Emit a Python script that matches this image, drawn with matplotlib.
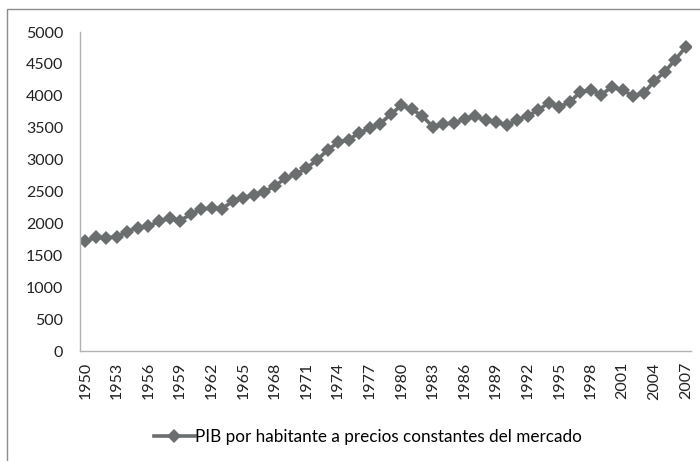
import matplotlib
matplotlib.use("Agg")
import matplotlib.pyplot as plt
from matplotlib.patches import Rectangle

years = list(range(1950, 2008))
pib = [1725, 1780, 1775, 1790, 1870, 1935, 1960, 2030, 2080, 2045,
       2140, 2225, 2240, 2230, 2350, 2405, 2445, 2495, 2590, 2705,
       2775, 2865, 2995, 3150, 3270, 3310, 3420, 3490, 3565, 3710,
       3850, 3790, 3680, 3515, 3560, 3570, 3635, 3680, 3620, 3595,
       3535, 3625, 3685, 3775, 3890, 3825, 3905, 4060, 4090, 4020,
       4140, 4085, 4000, 4040, 4225, 4375, 4565, 4765]
y_ticks = [0, 500, 1000, 1500, 2000, 2500, 3000, 3500, 4000, 4500, 5000]
label = "PIB por habitante a precios constantes del mercado"

plt.rcParams['font.family'] = ['Lato', 'DejaVu Sans']
gray = '#6a6e6e'
axis_gray = '#b3b3b3'

fig = plt.figure(figsize=(7, 4.61), dpi=100)
# outer chart border (cropped on right and bottom)
fig.patches.append(Rectangle((7 / 700, -0.05), 1.1, 1 - 9 / 461 + 0.05,
                             transform=fig.transFigure, fill=False,
                             edgecolor='#8c8c8c', linewidth=1))

ax = fig.add_axes([80 / 700, (461 - 351) / 461, 611 / 700, 319 / 461])
x = list(range(len(years)))
ax.plot(x, pib, color=gray, linewidth=2.6, marker='D', markersize=7.5,
        markeredgewidth=0, label=label)

ax.set_xlim(-0.5, len(years) - 0.5)
ax.set_ylim(0, 5000)
ax.set_yticks(y_ticks)
ax.set_yticklabels([str(v) for v in y_ticks], fontsize=11.5, color='#222222')
ax.set_xticks(x[::3])
ax.set_xticklabels([str(y) for y in years[::3]], rotation=90, fontsize=11.5,
                   color='#222222')
ax.tick_params(axis='both', length=0)
ax.tick_params(axis='y', pad=12)
ax.tick_params(axis='x', pad=8)
for side in ['top', 'right']:
    ax.spines[side].set_visible(False)
for side in ['left', 'bottom']:
    ax.spines[side].set_color(axis_gray)
    ax.spines[side].set_linewidth(1)

fig.legend(loc='center', bbox_to_anchor=(368 / 700, 1 - 437 / 461),
           frameon=False, fontsize=12.3, handlelength=2.4, handletextpad=0.05)

fig.savefig("out.png", dpi=100)
